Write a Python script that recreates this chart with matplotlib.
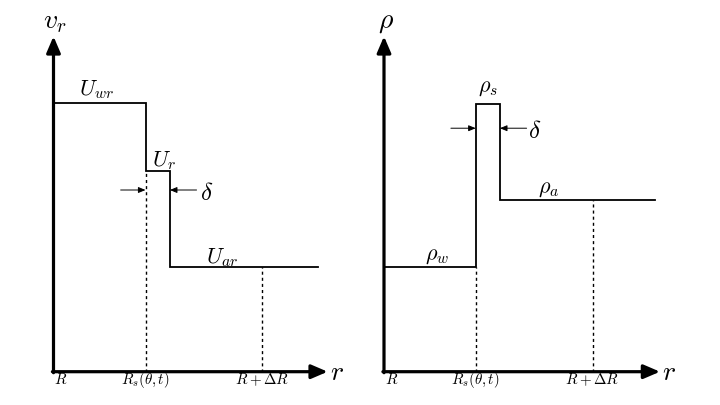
import matplotlib
matplotlib.use('Agg')
import matplotlib.pyplot as plt

plt.rcParams['mathtext.fontset'] = 'cm'

# left panel: radial velocity profile (schematic units)
r_vel = [0.0, 1.0, 1.265, 2.87]      # R, R_s, R_s+delta, end of line
v_vel = [8.04, 6.0, 3.13, 3.13]      # U_wr, U_r, U_ar
r_far_vel = 2.265                    # R + Delta R

# right panel: density profile
r_rho = [0.0, 0.997, 1.26, 2.945]
v_rho = [3.13, 8.02, 5.14, 5.14]     # rho_w, rho_s, rho_a
r_far_rho = 2.275

tick_names = [r'$R$', r'$R_s(\theta,t)$', r'$R+\Delta R$']

fig = plt.figure(figsize=(7.2, 4.05), dpi=100)
ax1 = fig.add_axes([53.5/720, 33.3/405, 276/720, 334/405])
ax2 = fig.add_axes([384/720, 33.3/405, 276/720, 334/405])


def panel(ax, r, v, r_far, ylab, xtip, tick_x):
    ax.set_xlim(0, 3)
    ax.set_ylim(0, 10)
    ax.axis('off')
    # axes with arrow heads
    big = dict(arrowstyle='-|>,head_length=0.7,head_width=0.3', lw=2.3,
               color='k', mutation_scale=14, shrinkA=0, shrinkB=0)
    ax.annotate('', xy=(xtip, 0), xytext=(-0.012, 0), arrowprops=big,
                annotation_clip=False)
    ax.annotate('', xy=(0, 10.04), xytext=(0, -0.03), arrowprops=big,
                annotation_clip=False)
    # step profile
    ax.plot(r, v, drawstyle='steps-post', color='k', lw=1.3,
            clip_on=False, solid_joinstyle='miter')
    # dotted guides
    ax.plot([r[1], r[1]], [0, min(v[0], v[1])], color='k', lw=1.0,
            ls=(0, (2.2, 2.2)), clip_on=False)
    ax.plot([r_far, r_far], [0, v[2]], color='k', lw=1.0,
            ls=(0, (2.2, 2.2)), clip_on=False)
    ax.text(xtip + 0.1, 0, r'$r$', fontsize=20, ha='center', va='center')
    ax.text(0.02, 10.5, ylab, fontsize=20, ha='center', va='center')
    for x, s in zip(tick_x, tick_names):
        ax.text(x, -0.37, s, fontsize=10.8, ha='center', va='baseline')


def delta_marks(ax, x0, x1, y, lx, ly):
    small = dict(arrowstyle='-|>,head_length=0.6,head_width=0.25', lw=0.7,
                 color='k', mutation_scale=7, shrinkA=0, shrinkB=0)
    ax.annotate('', xy=(x0, y), xytext=(x0 - 0.27, y), arrowprops=small)
    ax.annotate('', xy=(x1, y), xytext=(x1 + 0.29, y), arrowprops=small)
    ax.text(lx, ly, r'$\delta$', fontsize=18, ha='left', va='baseline')


panel(ax1, r_vel, v_vel, r_far_vel, r'$v_r$', 2.98, [0.08, 1.0, 2.27])
ax1.text(0.47, 8.28, r'$U_{wr}$', fontsize=16, ha='center', va='baseline')
ax1.text(1.2, 6.16, r'$U_r$', fontsize=16, ha='center', va='baseline')
ax1.text(1.83, 3.25, r'$U_{ar}$', fontsize=16, ha='center', va='baseline')
delta_marks(ax1, r_vel[1], r_vel[2], 5.44, 1.59, 5.14)

panel(ax2, r_rho, v_rho, r_far_rho, r'$\rho$', 3.0, [0.084, 0.995, 2.26])
ax2.text(0.573, 3.34, r'$\rho_w$', fontsize=16, ha='center', va='baseline')
ax2.text(1.134, 8.38, r'$\rho_s$', fontsize=16, ha='center', va='baseline')
ax2.text(1.79, 5.36, r'$\rho_a$', fontsize=16, ha='center', va='baseline')
delta_marks(ax2, r_rho[1], r_rho[2], 7.29, 1.57, 6.99)

fig.savefig('out.png', dpi=100)
